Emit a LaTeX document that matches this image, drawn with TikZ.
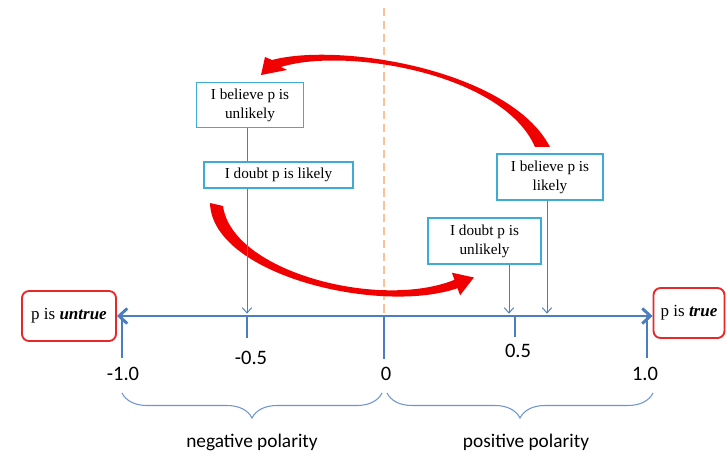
\documentclass[tikz,border=0pt]{standalone}
\usepackage{fontspec}
\setmainfont{Liberation Serif}
\newfontfamily\calib{Carlito}
\usetikzlibrary{arrows.meta,decorations.pathreplacing,calc}
\definecolor{axisblue}{RGB}{74,126,193}
\definecolor{boxcyan}{RGB}{60,172,212}
\definecolor{redbox}{RGB}{230,40,40}
\definecolor{arrred}{RGB}{240,0,0}
\definecolor{dashcol}{RGB}{250,192,150}
\definecolor{bracecol}{RGB}{110,150,210}
\begin{document}
\begin{tikzpicture}[x=0.03cm,y=-0.03cm,
  bbox/.style={draw=boxcyan, line width=1.2pt, fill=white, align=center, inner sep=0pt, font=\fontsize{13}{16}\selectfont},
  rbox/.style={draw=redbox, line width=1.6pt, rounded corners=6pt, fill=white, inner sep=0pt, font=\fontsize{14.5}{17}\selectfont},
  axisline/.style={draw=axisblue, line width=2.5pt},
  tickline/.style={draw=axisblue, line width=2.5pt},
  conn/.style={draw=axisblue, line width=0.8pt},
  ticklbl/.style={font=\calib\fontsize{17.5}{20}\selectfont, inner sep=0pt},
  pol/.style={font=\calib\fontsize{16.5}{19}\selectfont, inner sep=0pt},
  redarr/.style={fill=arrred, draw=none},
  bracestyle/.style={draw=bracecol, line width=0.9pt, decorate, decoration={brace, mirror, amplitude=0.75cm}}
]
\useasboundingbox (0,0) rectangle (727,454);
\fill[white] (0,0) rectangle (727,454);

% axis coordinates
\coordinate (m1) at (122,316);
\coordinate (m05) at (247,316);
\coordinate (z) at (384,316);
\coordinate (p05) at (515,316);
\coordinate (p1) at (647,316);
\coordinate (a1) at (509,316);
\coordinate (a2) at (547,316);
\coordinate (dtop) at (384,8);

% dashed divider
\draw[dashcol, line width=1.6pt, dash pattern=on 7pt off 4pt] (dtop) -- (z);

% red curved arrows
\fill[redarr] (261,75) -- (265,57) -- (272,60)
  .. controls (340,42) and (510,70) .. (550,147) -- (535,147)
  .. controls (503,73) and (345,47) .. (281,67) -- (287,70) -- cycle;
\fill[redarr] (210,203) .. controls (212,275) and (380,315) .. (457.5,288.2)
  -- (460.1,295.3) -- (473.9,277.5) -- (451.9,272.7) -- (454.5,279.8)
  .. controls (380,310) and (232,272) .. (223,206) -- cycle;

% boxes
\node[bbox, minimum width=3.21cm, minimum height=1.35cm] (bunl) at (250,105) {I believe p is\\unlikely};
\node[bbox, minimum width=4.47cm, minimum height=0.78cm] (dlik) at (278.5,175) {I doubt p is likely};
\node[bbox, minimum width=3.18cm, minimum height=1.38cm] (blik) at (550,177) {I believe p is\\likely};
\node[bbox, minimum width=3.39cm, minimum height=1.38cm] (dunl) at (484.5,241) {I doubt p is\\unlikely};
\node[rbox, minimum width=2.82cm, minimum height=1.5cm] (untrue) at (69,316) {p is \textbf{\textit{untrue}}};
\node[rbox, minimum width=2.13cm, minimum height=1.5cm] (true) at (689,313) {p is \textbf{\textit{true}}};

% connectors
\draw[conn] (bunl.south -| m05) -- (dlik.north -| m05);
\draw[conn, -{Straight Barb[length=4.5pt,width=8pt]}, shorten >=2pt] (dlik.south -| m05) -- (m05);
\draw[conn, -{Straight Barb[length=4.5pt,width=8pt]}, shorten >=2pt] (dunl.south -| a1) -- (a1);
\draw[conn, -{Straight Barb[length=4.5pt,width=8pt]}, shorten >=2pt] (blik.south -| a2) -- (a2);

% axis
\draw[axisline, {Straight Barb[length=7pt,width=13pt]}-{Straight Barb[length=7pt,width=13pt]}] (untrue.east |- z) -- (true.west |- z);

% ticks
\coordinate (m1b) at (122,358);
\coordinate (m05b) at (247,338);
\coordinate (zb) at (384,359);
\coordinate (p05b) at (515,337);
\coordinate (p1b) at (647,358);
\draw[tickline] (m1) -- (m1b);
\draw[tickline] (m05) -- (m05b);
\draw[tickline] (z) -- (zb);
\draw[tickline] (p05) -- (p05b);
\draw[tickline] (p1) -- (p1b);

% tick labels
\node[ticklbl] (lm1) at (123,374) {-1.0};
\node[ticklbl] (lm05) at (251,358) {-0.5};
\node[ticklbl] (lz) at (386,374) {0};
\node[ticklbl] (lp05) at (518,351) {0.5};
\node[ticklbl] (lp1) at (645,374) {1.0};

% braces
\coordinate (bl1) at (122,393);
\coordinate (bl2) at (382,393);
\coordinate (br1) at (387,393);
\coordinate (br2) at (653,393);
\draw[bracestyle] (bl1) -- (bl2);
\draw[bracestyle] (br1) -- (br2);

\node[pol] (neg) at (252,442) {negative polarity};
\node[pol] (pos) at (526,442) {positive polarity};
\end{tikzpicture}
\end{document}
